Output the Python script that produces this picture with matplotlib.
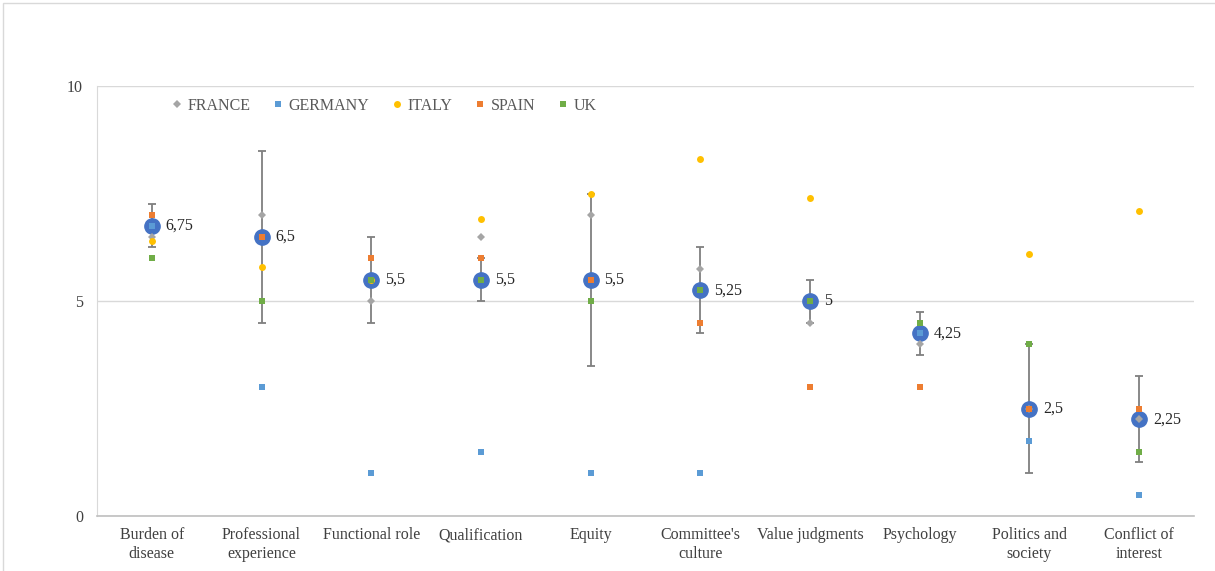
import numpy as np
import matplotlib
matplotlib.use("Agg")
import matplotlib.pyplot as plt
from matplotlib.patches import Rectangle

# categorias y valores
categorias = ["Burden of\ndisease", "Professional\nexperience", "Functional role",
              "Qualification", "Equity", "Committee's\nculture", "Value judgments",
              "Psychology", "Politics and\nsociety", "Conflict of\ninterest"]

france = [6.5, 7.0, 5.0, 6.5, 7.0, 5.75, 4.5, 4.0, 2.5, 2.25]
germany = [6.75, 3.0, 1.0, 1.5, 1.0, 1.0, 5.0, 4.25, 1.75, 0.5]
italy = [6.4, 5.8, 5.5, 6.9, 7.5, 8.3, 7.4, None, 6.1, 7.1]
spain = [7.0, 6.5, 6.0, 6.0, 5.5, 4.5, 3.0, 3.0, 2.5, 2.5]
uk = [6.0, 5.0, 5.5, 5.5, 5.0, 5.25, 5.0, 4.5, 4.0, 1.5]

mediana = [6.75, 6.5, 5.5, 5.5, 5.5, 5.25, 5.0, 4.25, 2.5, 2.25]
error = [0.5, 2.0, 1.0, 0.5, 2.0, 1.0, 0.5, 0.5, 1.5, 1.0]
etiquetas = ["6,75", "6,5", "5,5", "5,5", "5,5", "5,25", "5", "4,25", "2,5", "2,25"]

plt.rcParams['font.family'] = ['Liberation Serif', 'DejaVu Serif']

fig = plt.figure(figsize=(12.15, 5.71), dpi=100)
ax = fig.add_axes([97 / 1215, 55 / 571, 1097 / 1215, 430 / 571])

x = np.arange(len(categorias))

# serie de la mediana con barras de error (va detras)
ax.errorbar(x, mediana, yerr=error, fmt='o', color='#4472C4', markersize=11,
            markeredgecolor='#4472C4', ecolor='#7F7F7F', elinewidth=1.3,
            capsize=3, capthick=1.3, zorder=2)

# paises
series = [
    ("FRANCE", france, 'D', '#A5A5A5', 3.6),
    ("GERMANY", germany, 's', '#5B9BD5', 5),
    ("ITALY", italy, 'o', '#FFC000', 5),
    ("SPAIN", spain, 's', '#ED7D31', 5),
    ("UK", uk, 's', '#70AD47', 5),
]
for nombre, valores, marca, color, tam in series:
    xs = [xi for xi, v in zip(x, valores) if v is not None]
    vs = [v for v in valores if v is not None]
    ax.plot(xs, vs, linestyle='none', marker=marca, color=color,
            markersize=tam, markeredgewidth=0, label=nombre, zorder=3)

# etiquetas de datos
for xi, v, t in zip(x, mediana, etiquetas):
    ax.annotate(t, (xi, v), xytext=(10, 0), textcoords='offset points',
                va='center', ha='left', fontsize=11.5, color='#262626', zorder=4)

ax.set_xlim(-0.5, len(categorias) - 0.5)
ax.set_ylim(0, 10)
ax.set_yticks([0, 5, 10])
ax.set_xticks(x)
ax.set_xticklabels(categorias, fontsize=11.5, color='#404040', linespacing=1.2)
ax.tick_params(axis='y', length=0, pad=10, labelsize=11.5, labelcolor='#404040')
ax.tick_params(axis='x', length=0, pad=8)

ax.grid(axis='y', color='#D9D9D9', linewidth=1)
ax.set_axisbelow(True)
for lado in ['top', 'right']:
    ax.spines[lado].set_visible(False)
ax.spines['left'].set_color('#D9D9D9')
ax.spines['bottom'].set_color('#BFBFBF')
ax.spines['bottom'].set_linewidth(1.2)

ax.legend(loc='upper left', bbox_to_anchor=(0.056, 1.006), ncol=5, frameon=False,
          fontsize=11.5, handlelength=0.5, handletextpad=0.4, columnspacing=1.5,
          labelcolor='#595959')

# borde exterior del grafico
fig.patches.append(Rectangle((3 / 1215, -0.05), 1.1, 1.05 - 3 / 571,
                             transform=fig.transFigure, fill=False,
                             edgecolor='#D9D9D9', linewidth=1))

fig.savefig('out.png', dpi=100)
